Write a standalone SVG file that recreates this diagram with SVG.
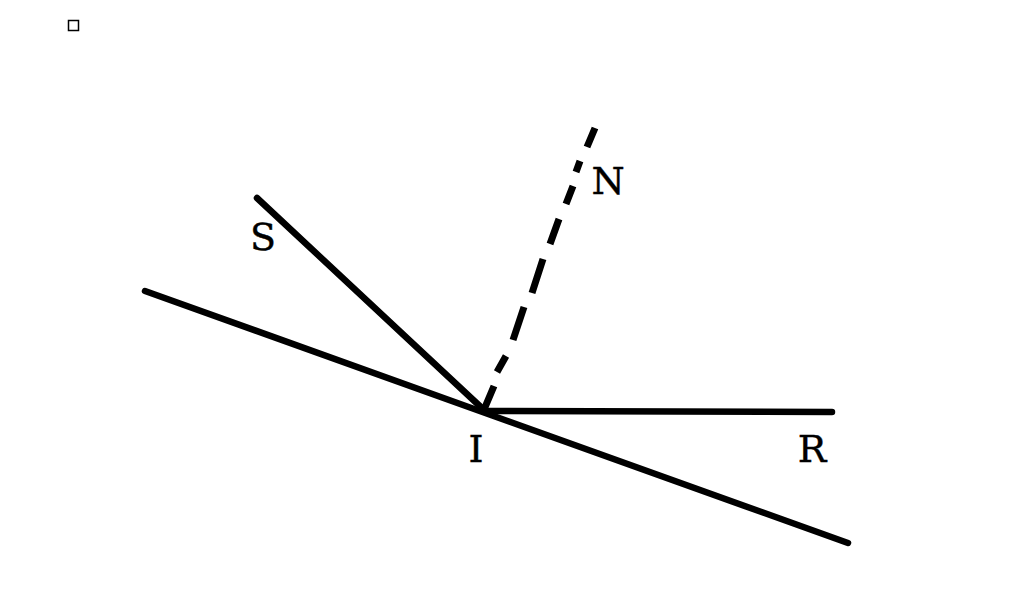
<svg xmlns="http://www.w3.org/2000/svg" width="1024" height="594" viewBox="0 0 1024 594">
<style>
.ln{stroke:#000;stroke-width:6.5;fill:none;stroke-linecap:round}
.lbl{font-family:"DejaVu Serif","Liberation Serif",serif;font-size:38px;fill:#000;stroke:#000;stroke-width:0.4}
</style>
<rect width="1024" height="594" fill="#fff"/>
<rect x="68.5" y="20.5" width="10" height="10" fill="none" stroke="#000" stroke-width="1.5"/>
<g id="connectors">
<line class="ln" x1="145" y1="291" x2="848" y2="543"/>
<line class="ln" x1="257" y1="198" x2="484" y2="410"/>
<line class="ln" x1="484" y1="411" x2="832" y2="412"/>
<path class="ln" style="stroke-linecap:butt;stroke-width:7" d="M595,128L587,147M580,161L576,172M573,186L566,204M559,219L550,244M543,259L532,293M524,307L513,340M506,356L497,372M494,386L483,412"/>
</g>
<g id="S"><text class="lbl" x="263" y="250" text-anchor="middle">S</text></g>
<g id="N"><text class="lbl" x="608" y="194" text-anchor="middle">N</text></g>
<g id="I"><text class="lbl" x="476" y="462" text-anchor="middle">I</text></g>
<g id="R"><text class="lbl" x="812" y="462" text-anchor="middle">R</text></g>
</svg>
